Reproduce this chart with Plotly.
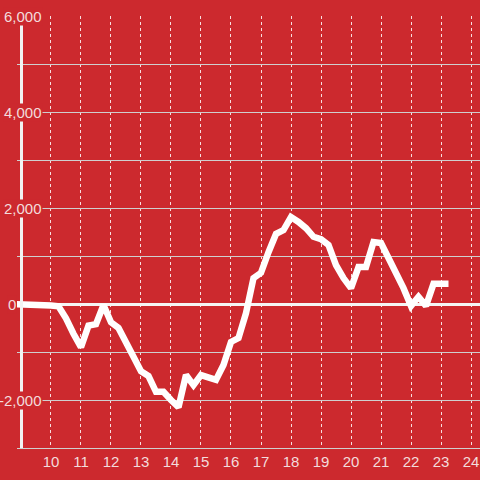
import plotly.graph_objects as go

BG = "rgb(204,41,46)"
TEXT = "#f3dcdc"

x_vals = [8.75, 9.0, 9.25, 9.5, 9.75, 10.0, 10.25, 10.5, 10.75, 11.0, 11.25, 11.5, 11.75,
          12.0, 12.25, 12.5, 12.75, 13.0, 13.25, 13.5, 13.75, 14.0, 14.25, 14.5, 14.75,
          15.0, 15.25, 15.5, 15.75, 16.0, 16.25, 16.5, 16.75, 17.0, 17.25, 17.5, 17.75,
          18.0, 18.25, 18.5, 18.75, 19.0, 19.25, 19.5, 19.75, 20.0, 20.25, 20.5, 20.75,
          21.0, 21.25, 21.5, 21.75, 22.0, 22.25, 22.5, 22.75, 23.0, 23.25]
y_vals = [0, 0, 0, -10, -20, -30, -50, -300, -620, -900, -450, -420, -20,
          -380, -500, -830, -1100, -1400, -1500, -1830, -1830, -2000, -2150, -1480, -1690,
          -1480, -1520, -1580, -1270, -790, -710, -190, 540, 650, 1080, 1460, 1540,
          1810, 1710, 1580, 1400, 1350, 1230, 810, 540, 330, 770, 770, 1290,
          1270, 960, 670, 330, -40, 150, -40, 420, 420, 420]

x_ticks = list(range(10, 25))
y_grid = list(range(-3000, 7000, 1000))
y_labels = [-2000, 0, 2000, 4000, 6000]

fig = go.Figure()
fig.add_trace(go.Scatter(
    x=x_vals, y=y_vals, mode="lines",
    line=dict(color="white", width=6.5),
    showlegend=False, hoverinfo="skip",
))

for v in y_labels:
    # the zero label sits left of the line start, the others cover the axis
    fig.add_annotation(
        x=0.0 if v == 0 else 0.056, xref="paper", y=v, yref="y",
        text=f"{v:,}", showarrow=False, xanchor="right", yanchor="middle",
        font=dict(family="Liberation Sans, Arial, sans-serif", size=15, color=TEXT),
        bgcolor=BG, borderpad=0,
    )

fig.update_layout(
    width=480, height=480,
    margin=dict(l=17, r=0, t=16, b=32),
    paper_bgcolor=BG, plot_bgcolor=BG,
    font=dict(family="Liberation Sans, Arial, sans-serif", size=15, color=TEXT),
    xaxis=dict(
        range=[8.867, 24.3], tickvals=x_ticks, ticks="", automargin=False,
        showgrid=True, gridcolor="rgba(255,255,255,0.85)", griddash="dot", gridwidth=1,
        zeroline=False, showline=True, linecolor="#cfcfcf", linewidth=1,
        tickfont=dict(size=15, color=TEXT),
    ),
    yaxis=dict(
        range=[-3000, 6000], tickvals=y_grid, showticklabels=False, ticks="",
        automargin=False,
        showgrid=True, gridcolor="#cfcfcf", gridwidth=1,
        zeroline=True, zerolinecolor="#f5f5f5", zerolinewidth=3,
        showline=True, linecolor="#f2f2f2", linewidth=3,
        anchor="free", position=0.0076,
    ),
)

fig.write_html("out.html", config={"displayModeBar": False},
               post_script="document.body.style.margin='0px';")
